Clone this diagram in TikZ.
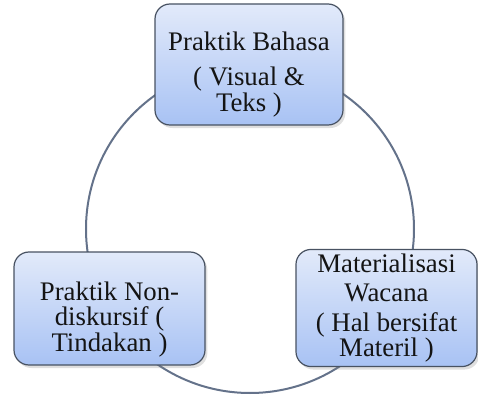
\documentclass[tikz,border=0pt]{standalone}
\usepackage{fontspec}
\setmainfont{Liberation Serif}
\usetikzlibrary{
  shadows,
  calc
}
\definecolor{boxtop}{RGB}{226,234,250}
\definecolor{boxbottom}{RGB}{168,194,244}
\definecolor{boxborder}{RGB}{72,82,98}
\definecolor{ringgray}{RGB}{100,114,138}
\definecolor{textgray}{RGB}{20,20,20}
\tikzset{
  cyclebox/.style={
    draw=boxborder, top color=boxtop, bottom color=boxbottom,
    line width=0.6pt, rounded corners=7.5pt, align=center,
    inner sep=2pt,
    font=\fontsize{13.4}{12.8}\selectfont\color{textgray},
    drop shadow={opacity=0.25, shadow xshift=1.2pt, shadow yshift=-1.5pt}
  },
  ringline/.style={
    draw=ringgray, line width=1pt
  },
}
\newcommand{\lowerby}[1]{\rule{0pt}{#1}}
\begin{document}
\begin{tikzpicture}[x=0.5pt, y=-0.5pt]

  \useasboundingbox (0,0) rectangle (478,396);

  %% Ring joining the three practices
  \coordinate (ring) at (250,229);
  \draw[ringline] (ring) circle[radius=82pt];

  %% Top
  \node[cyclebox, minimum width=94pt, minimum height=60.5pt] (bahasa)
    at (249,64.5) {\lowerby{19pt}Praktik Bahasa\\[5pt]( Visual \&\\Teks )};

  %% Bottom left
  \node[cyclebox, minimum width=95.5pt, minimum height=56.5pt] (nondisk)
    at (109.5,308.5) {\lowerby{20pt}Praktik Non-\\diskursif (\\Tindakan )};

  %% Bottom right
  \node[cyclebox, minimum width=90.5pt, minimum height=56pt] (materi)
    at (386.5,308) {Materialisasi\\[2pt]Wacana\\[2pt]( Hal bersifat\\Materil )};

\end{tikzpicture}
\end{document}
